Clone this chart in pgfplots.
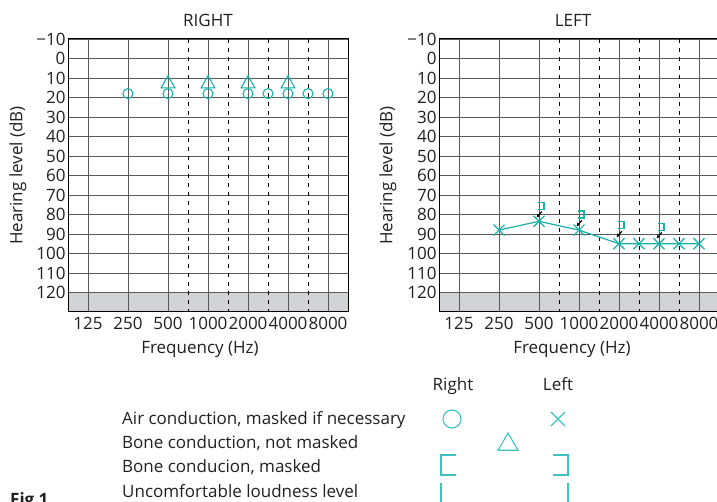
\documentclass[border=0pt]{standalone}
\usepackage{fontspec}
\setmainfont{Open Sans}
\usepackage{pgfplots}
\pgfplotsset{compat=1.18}
\usetikzlibrary{arrows.meta}
\definecolor{teal1}{RGB}{26,176,170}
\definecolor{teal2}{RGB}{60,195,192}
\definecolor{band}{RGB}{209,211,212}
\definecolor{gridc}{RGB}{90,90,90}
\definecolor{txt}{RGB}{35,31,32}

\pgfdeclareplotmark{rbr}{%
  \pgfpathmoveto{\pgfqpoint{-1pt}{3.5pt}}%
  \pgfpathlineto{\pgfqpoint{5pt}{3.5pt}}%
  \pgfpathlineto{\pgfqpoint{5pt}{-3.5pt}}%
  \pgfpathlineto{\pgfqpoint{-1pt}{-3.5pt}}%
  \pgfusepathqstroke}

\pgfplotsset{
  audio/.style={
    set layers,
    scale only axis, width=280pt, height=273pt,
    anchor=south west,
    xmin=-0.5, xmax=6.5, ymin=-10, ymax=130, y dir=reverse,
    xtick={0,...,6}, xticklabels={125,250,500,1000,2000,4000,8000},
    ytick={-10,0,...,120},
    yticklabels={−10,0,10,20,30,40,50,60,70,80,90,100,110,120},
    major tick length=0pt,
    xmajorgrids, ymajorgrids,
    major grid style={gridc, line width=0.9pt},
    extra x ticks={2.5,3.5,4.5,5.5}, extra x tick labels={},
    extra x tick style={grid=major, major grid style={black, line width=0.8pt, dash pattern=on 4pt off 5pt}},
    axis line style={black, line width=1pt},
    tick label style={font=\fontsize{17}{20}\selectfont, text=txt},
    yticklabel style={xshift=1pt},
    xticklabel style={yshift=-2pt},
    clip=false,
  }
}

\begin{document}
\begin{tikzpicture}[x=1pt,y=1pt]

% RIGHT ear
\begin{axis}[audio, at={(68pt,189pt)}]
  \addplot[fill=band, draw=none, on layer=axis background] coordinates {(-0.5,120) (6.5,120) (6.5,130) (-0.5,130) (-0.5,120)};
  \addplot[teal1, only marks, mark=o, mark size=5pt, line width=1.1pt] coordinates {(1,18) (2,18) (3,18) (4,18) (4.5,18) (5,18) (5.5,18) (6,18)};
  \addplot[teal1, only marks, mark=triangle, mark size=8pt, line width=1.1pt] coordinates {(2,13) (3,13) (4,13) (5,13)};
\end{axis}

% LEFT ear
\begin{axis}[audio, at={(439pt,189pt)}]
  \addplot[fill=band, draw=none, on layer=axis background] coordinates {(-0.5,120) (6.5,120) (6.5,130) (-0.5,130) (-0.5,120)};
  \addplot[teal1, line width=1.2pt, mark=x, mark size=7.8pt] coordinates {(1,88) (2,83.5) (3,88) (4,95) (4.5,95) (5,95) (5.5,95) (6,95)};
  \addplot[teal1, only marks, mark=rbr, line width=1.1pt] coordinates {(2,75.5) (3,80) (4,85.6) (5,86.2)};
  \addplot[black, line width=1.2pt, -{Stealth[length=3.5pt,width=3.5pt]},
     quiver={u=\thisrow{u}, v=\thisrow{v}}] table {
     x y u v
     2.07 78.5 -0.13 3
     3.07 83 -0.13 3
     4.07 88.6 -0.13 3
     5.07 89.2 -0.13 3
  };
\end{axis}

% legend symbols (image coordinates)
\begin{axis}[at={(0pt,0pt)}, anchor=south west, scale only axis, width=717pt, height=501pt,
  xmin=0, xmax=717, ymin=0, ymax=501, y dir=reverse, hide axis, clip=false]
  \addplot[teal2, only marks, mark=o, mark size=9pt, line width=1.1pt] coordinates {(452,419)};
  \addplot[teal2, only marks, mark=x, mark size=10pt, line width=1.1pt] coordinates {(558,419)};
  \addplot[teal2, only marks, mark=triangle, mark size=11.5pt, line width=1.1pt] coordinates {(508,444.5)};
  \addplot[teal2, line width=1.3pt] coordinates {(456,455) (441,455) (441,475) (456,475)};
  \addplot[teal2, line width=1.3pt] coordinates {(553,455) (568,455) (568,475) (553,475)};
  \addplot[teal2, line width=1.3pt] coordinates {(441,483) (441,510)};
  \addplot[teal2, line width=1.3pt] coordinates {(568,483) (568,510)};
\end{axis}

\begin{scope}[every node/.style={text=txt, font=\fontsize{17}{20}\selectfont, inner sep=0pt}]
  \node[anchor=base] at (208,474) {RIGHT};
  \node[anchor=base] at (573,474) {LEFT};
  \node[anchor=base] at (200,148) {Frequency (Hz)};
  \node[anchor=base] at (572,148) {Frequency (Hz)};
  \node[rotate=90] at (18,325.5) {Hearing level (dB)};
  \node[rotate=90] at (388,325.5) {Hearing level (dB)};
  \node[anchor=base] at (453,111) {Right};
  \node[anchor=base] at (558,111) {Left};
  \node[anchor=base west] at (122,77) {Air conduction, masked if necessary};
  \node[anchor=base west] at (122,53) {Bone conduction, not masked};
  \node[anchor=base west] at (122,29) {Bone conducion, masked};
  \node[anchor=base west] at (122,4) {Uncomfortable loudness level};
  \node[anchor=base west, font=\fontsize{17}{20}\selectfont\bfseries] at (10,-4) {Fig 1};
\end{scope}
\pgfresetboundingbox
\useasboundingbox (0,0) rectangle (717,501);
\end{tikzpicture}
\end{document}
